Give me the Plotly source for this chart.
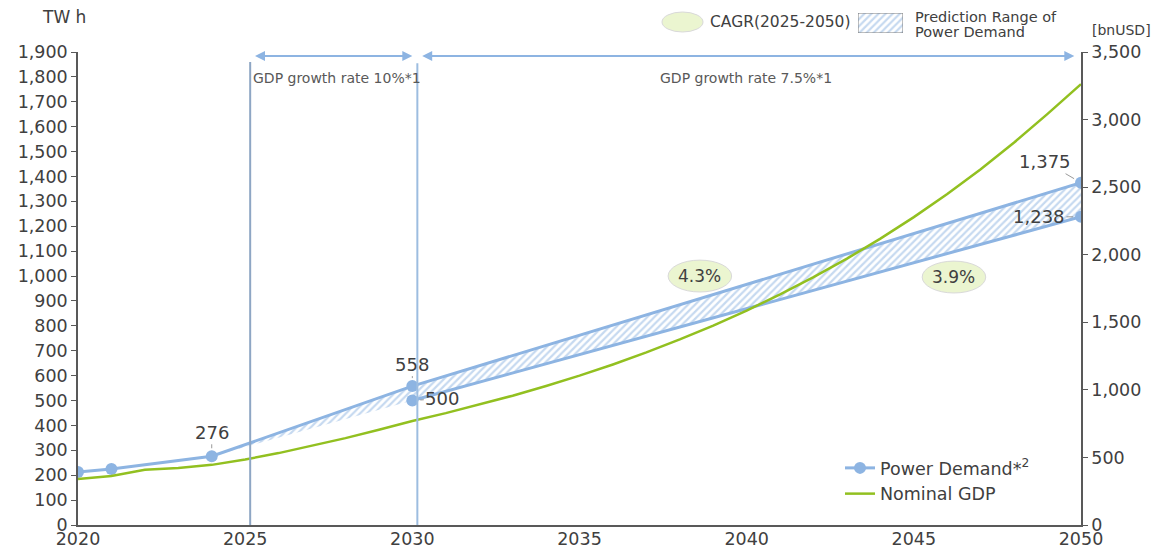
import plotly.graph_objects as go

# ---- data ----
years_actual = [2020, 2021, 2024]
demand_actual = [213, 225, 276]

years_proj = [2024, 2030, 2050]
demand_high = [276, 558, 1375]
demand_low = [276, 500, 1238]

gdp_years = list(range(2020, 2051))
gdp_values = [340, 363, 408, 422, 445, 485, 532, 585, 643, 705, 770,
              828, 890, 957, 1028, 1105, 1188, 1277, 1373, 1476, 1587,
              1706, 1834, 1971, 2119, 2278, 2449, 2632, 2830, 3042, 3262]

cagr_labels = ["4.3%", "3.9%"]
cagr_pos_x = [2038.6, 2046.2]
cagr_pos_y = [1000, 996]

left_ticks = list(range(0, 2000, 100))
right_ticks = list(range(0, 4000, 500))
x_ticks = list(range(2020, 2055, 5))

BLUE = "#8DB4E2"
GREEN = "#92C020"
TXT = "#404040"
AX = "#595959"
FONT = "DejaVu Sans"

# the page body adds an 8px offset, so the figure is 8px smaller and
# positions below are given in window pixels, then mapped to paper coords
W, H = 1151, 541
PLOT_L, PLOT_R, PLOT_B = 78, 1081, 525
PLOT_H = PLOT_B - 8
Y_DOM = (PLOT_B - 52) / PLOT_H


def px(xw):
    return (xw - PLOT_L) / (PLOT_R - PLOT_L)


def py(yw):
    return (PLOT_B - yw) / PLOT_H


pattern = dict(shape="/", fgcolor="#8DB4E2", bgcolor="white", size=5, solidity=0.45)

fig = go.Figure()

# prediction band
fig.add_trace(go.Scatter(
    x=years_proj, y=demand_low, mode="lines",
    line=dict(color=BLUE, width=0), showlegend=False, hoverinfo="skip"))
fig.add_trace(go.Scatter(
    x=years_proj, y=demand_high, mode="lines", fill="tonexty",
    fillcolor="rgba(255,255,255,0)", fillpattern=pattern,
    line=dict(color=BLUE, width=0), showlegend=False, hoverinfo="skip"))

# power demand lines
fig.add_trace(go.Scatter(
    x=years_actual + years_proj[1:], y=demand_actual + demand_high[1:],
    mode="lines+markers", name="Power Demand*<sup>2</sup>",
    line=dict(color=BLUE, width=3), marker=dict(size=12, color=BLUE)))
fig.add_trace(go.Scatter(
    x=years_proj[1:], y=demand_low[1:], mode="lines+markers",
    line=dict(color=BLUE, width=3), marker=dict(size=12, color=BLUE),
    showlegend=False))

# nominal GDP on right axis
fig.add_trace(go.Scatter(
    x=gdp_years, y=gdp_values, mode="lines", name="Nominal GDP",
    line=dict(color=GREEN, width=2.5), yaxis="y2"))

# key swatch for hatched range (helper axes above the plot)
fig.add_trace(go.Scatter(
    x=[0, 1, 1, 0, 0], y=[0, 0, 1, 1, 0], mode="lines", fill="toself",
    fillcolor="rgba(255,255,255,0)", fillpattern=pattern,
    line=dict(color="#7F7F7F", width=1), xaxis="x3", yaxis="y3",
    showlegend=False, hoverinfo="skip"))

shapes = []
# vertical period lines
shapes.append(dict(type="line", xref="x", yref="y", x0=2025.15, x1=2025.15, y0=0, y1=1860,
                   line=dict(color="#8EA6C4", width=2), layer="above"))
shapes.append(dict(type="line", xref="x", yref="y", x0=2030.15, x1=2030.15, y0=0, y1=1855,
                   line=dict(color="#9DBDE0", width=2), layer="above"))
# CAGR ellipses
for cx, cy in zip(cagr_pos_x, cagr_pos_y):
    shapes.append(dict(type="circle", xref="x", yref="y", x0=cx - 0.95, x1=cx + 0.95,
                       y0=cy - 64, y1=cy + 64, fillcolor="#EBF5D0",
                       line=dict(color="#D9D9D9", width=1), layer="above"))
# CAGR key ellipse
shapes.append(dict(type="circle", xref="paper", yref="paper",
                   x0=px(662), x1=px(703), y0=py(32), y1=py(12),
                   fillcolor="#EBF5D0", line=dict(color="#D9D9D9", width=1)))

annotations = []
for lbl, cx, cy in zip(cagr_labels, cagr_pos_x, cagr_pos_y):
    annotations.append(dict(x=cx, y=cy, xref="x", yref="y", text=lbl, showarrow=False,
                            font=dict(size=17, color=TXT, family=FONT)))

# arrows for growth periods
arrow = dict(xref="x", yref="y", axref="x", ayref="y", text="", showarrow=True,
             arrowhead=2, startarrowhead=2, arrowside="end+start", arrowsize=1,
             arrowwidth=2, arrowcolor=BLUE)
annotations.append(dict(arrow, x=2030.0, y=1884, ax=2025.25, ay=1884))
annotations.append(dict(arrow, x=2049.8, y=1884, ax=2030.25, ay=1884))


def note(xw, yw, text, size, color=TXT, xanchor="left", **kw):
    return dict(x=px(xw), y=py(yw), xref="paper", yref="paper", text=text,
                showarrow=False, xanchor=xanchor, yanchor="middle",
                font=dict(size=size, color=color, family=FONT), **kw)


annotations.append(note(251, 78, "GDP growth rate 10%*1", 14, AX))
annotations.append(note(746, 78, "GDP growth rate 7.5%*1", 14, AX, xanchor="center"))

# data labels
lab = dict(xref="x", yref="y", showarrow=True, arrowhead=0, arrowwidth=0.8,
           arrowcolor="#7F7F7F", standoff=8, font=dict(size=18, color=TXT, family=FONT))
annotations.append(dict(lab, x=2024, y=demand_actual[2], ax=0, ay=-24, text=f"{demand_actual[2]:,}"))
annotations.append(dict(lab, x=2030, y=demand_high[1], ax=0, ay=-22, text=f"{demand_high[1]:,}"))
annotations.append(dict(lab, x=2030, y=demand_low[1], ax=30, ay=-2, text=f"{demand_low[1]:,}"))
annotations.append(dict(lab, x=2050, y=demand_high[2], ax=-36, ay=-21, text=f"{demand_high[2]:,}"))
annotations.append(dict(lab, x=2050, y=demand_low[2], ax=-42, ay=0, text=f"{demand_low[2]:,}"))

# units and key texts
annotations.append(note(40, 17, "TW h", 17))
annotations.append(note(1153, 30, "[bnUSD]", 14, xanchor="right"))
annotations.append(note(708, 22, "CAGR(2025-2050)", 15.5))
annotations.append(note(913, 17, "Prediction Range of", 14.5))
annotations.append(note(913, 32, "Power Demand", 14.5))

fig.update_layout(
    width=W, height=H,
    margin=dict(l=PLOT_L - 8, r=W - (PLOT_R - 8), t=0, b=H - PLOT_H, autoexpand=False),
    paper_bgcolor="white", plot_bgcolor="white",
    font=dict(family=FONT, color=TXT, size=17),
    xaxis=dict(range=[2020, 2050], tickvals=x_ticks, showgrid=False, zeroline=False,
               showline=True, linecolor=AX, linewidth=1.5, ticks="", automargin=False,
               ticklabelstandoff=-3, tickfont=dict(size=17.5, color=TXT)),
    yaxis=dict(range=[0, 1900], domain=[0, Y_DOM], tickvals=left_ticks,
               tickformat=",d", showgrid=False, zeroline=False, showline=True,
               linecolor=AX, linewidth=1.5, ticks="outside", ticklen=5, tickcolor=AX,
               automargin=False, tickfont=dict(size=17.5, color=TXT)),
    yaxis2=dict(range=[0, 3500], domain=[0, Y_DOM], overlaying="y", side="right",
                tickvals=right_ticks, tickformat=",d", showgrid=False, zeroline=False,
                showline=True, linecolor=AX, linewidth=1.5, ticks="outside", ticklen=5,
                automargin=False, tickcolor=AX, tickfont=dict(size=17.5, color=TXT)),
    xaxis3=dict(domain=[px(858), px(903)], range=[0, 1], visible=False, anchor="y3",
                automargin=False),
    yaxis3=dict(domain=[py(33), py(13)], range=[0, 1], visible=False, anchor="x3",
                automargin=False),
    legend=dict(x=px(840), y=py(450), xanchor="left", yanchor="top",
                bgcolor="rgba(0,0,0,0)", traceorder="normal",
                font=dict(size=17.5, color=TXT, family=FONT), tracegroupgap=4),
    shapes=shapes,
    annotations=annotations,
)

fig.write_html("out.html")
